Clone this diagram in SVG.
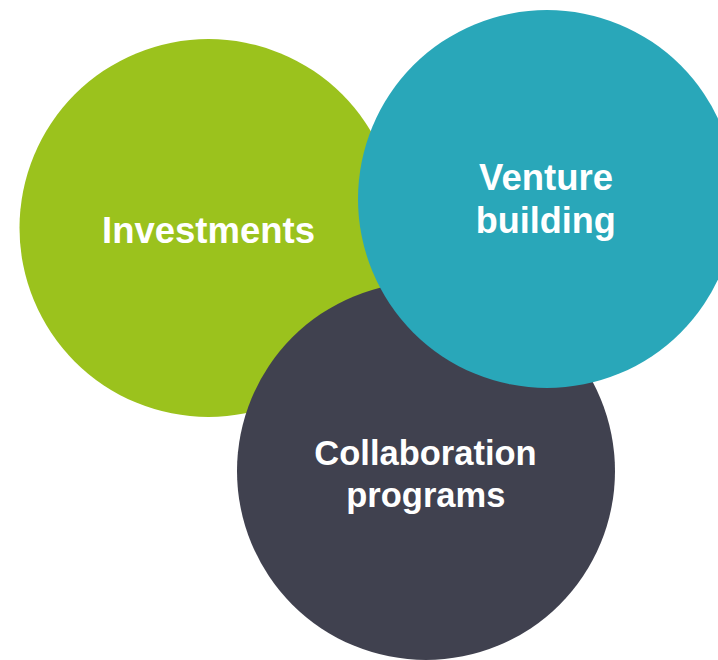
<svg xmlns="http://www.w3.org/2000/svg" width="718" height="660" viewBox="0 0 718 660">
<style>
.lbl{font-family:"Liberation Sans",Arial,sans-serif;font-weight:bold;font-size:36.5px;fill:#ffffff;text-anchor:middle}
.sm{font-size:34.5px}
</style>
<rect width="718" height="660" fill="#ffffff"/>
<g id="investments">
<circle cx="208.5" cy="228" r="189" fill="#9BC21D"/>
<text class="lbl" x="208.5" y="243">Investments</text>
</g>
<g id="collaboration">
<circle cx="426" cy="471" r="189" fill="#40414F"/>
<text class="lbl sm" x="425.5" y="464.5">Collaboration</text>
<text class="lbl sm" x="425.8" y="506.5">programs</text>
</g>
<g id="venture">
<circle cx="547" cy="199" r="189" fill="#29A7B9"/>
<text class="lbl" x="546" y="190">Venture</text>
<text class="lbl" x="545.7" y="233" style="font-size:36px">building</text>
</g>
<g id="connectors"></g>
</svg>
